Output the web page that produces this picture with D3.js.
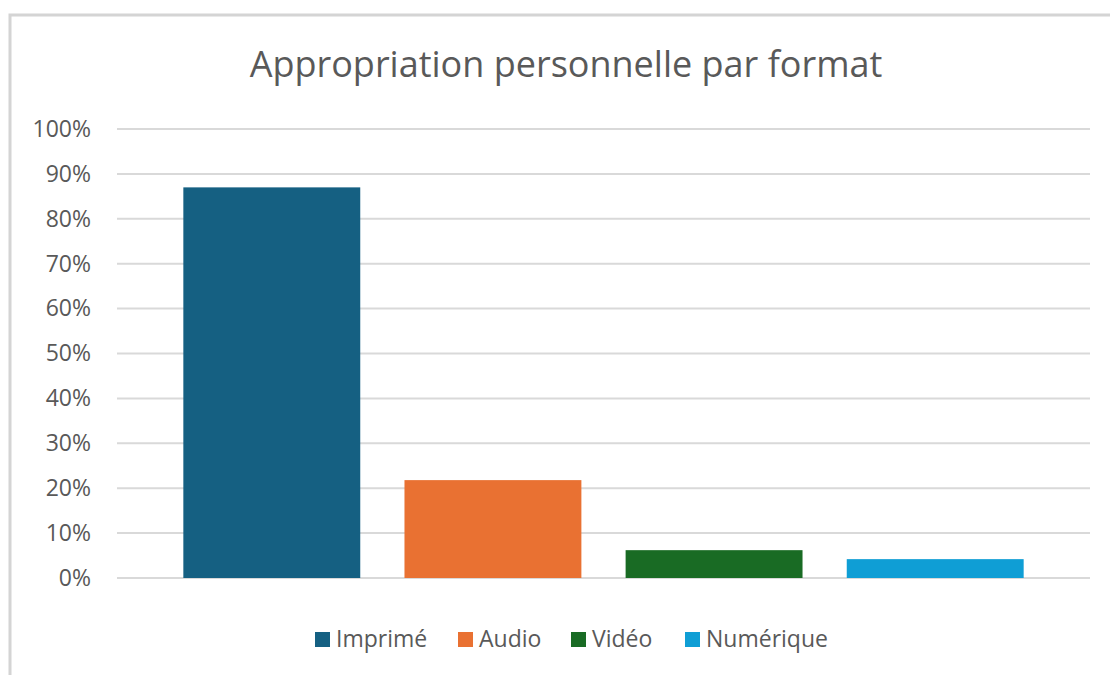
<!DOCTYPE html>
<html><head><meta charset="utf-8">
<title>Appropriation personnelle par format</title>
<script src="https://cdn.jsdelivr.net/npm/d3@7"></script>
<style>
body { margin: 0; background: #fff; }
text { font-family: "Open Sans", "Liberation Sans", sans-serif; fill: #595959; }
</style>
</head>
<body>
<script>
// data
var formats = ["Imprimé", "Audio", "Vidéo", "Numérique"];
var values = [0.87, 0.218, 0.062, 0.042];
var colors = ["#156082", "#e97132", "#196b24", "#0f9ed5"];
var yTicks = [0, 0.1, 0.2, 0.3, 0.4, 0.5, 0.6, 0.7, 0.8, 0.9, 1.0];
var title = "Appropriation personnelle par format";

var width = 1110, height = 675;
var svg = d3.select("body").append("svg").attr("width", width).attr("height", height);

// chart frame (only top + left edge visible)
svg.append("rect")
	.attr("x", 10).attr("y", 15)
	.attr("width", width + 20).attr("height", height + 20)
	.attr("fill", "none")
	.attr("stroke", "#d4d4d4")
	.attr("stroke-width", 3);

var plot = {left: 117, right: 1090, top: 129, bottom: 578};

var y = d3.scaleLinear().domain([0, 1]).range([plot.bottom, plot.top]);
var x = d3.scaleBand().domain(formats).range([plot.left, plot.right])
	.paddingInner(0.2).paddingOuter(0.3);

// title
svg.append("text")
	.attr("x", 566)
	.attr("y", 77)
	.attr("text-anchor", "middle")
	.attr("font-size", "36px")
	.text(title);

// gridlines
svg.append("g").selectAll("line").data(yTicks).enter().append("line")
	.attr("x1", plot.left).attr("x2", plot.right)
	.attr("y1", function(d) { return y(d); })
	.attr("y2", function(d) { return y(d); })
	.attr("stroke", "#d9d9d9")
	.attr("stroke-width", 2);

// y axis labels
var yAxis = d3.axisLeft(y).tickValues(yTicks).tickFormat(d3.format(".0%")).tickSize(0).tickPadding(26);
var gy = svg.append("g").attr("transform", "translate(" + plot.left + ",0)").call(yAxis);
gy.select(".domain").remove();
gy.selectAll("text").attr("font-size", "23px").attr("fill", "#595959")
	.attr("font-family", "'Open Sans', sans-serif");

// bars
svg.append("g").selectAll("rect").data(formats).enter().append("rect")
	.attr("x", function(d) { return x(d); })
	.attr("width", x.bandwidth())
	.attr("y", function(d, i) { return y(values[i]); })
	.attr("height", function(d, i) { return y(0) - y(values[i]); })
	.attr("fill", function(d, i) { return colors[i]; });

// legend
var legendX = [315, 458, 571, 685];
var legend = svg.append("g").selectAll("g").data(formats).enter().append("g")
	.attr("transform", function(d, i) { return "translate(" + legendX[i] + ",632)"; });
legend.append("rect")
	.attr("width", 15).attr("height", 15)
	.attr("fill", function(d, i) { return colors[i]; });
legend.append("text")
	.attr("x", 21).attr("y", 15)
	.attr("font-size", "23px")
	.text(function(d) { return d; });
</script>
</body></html>
